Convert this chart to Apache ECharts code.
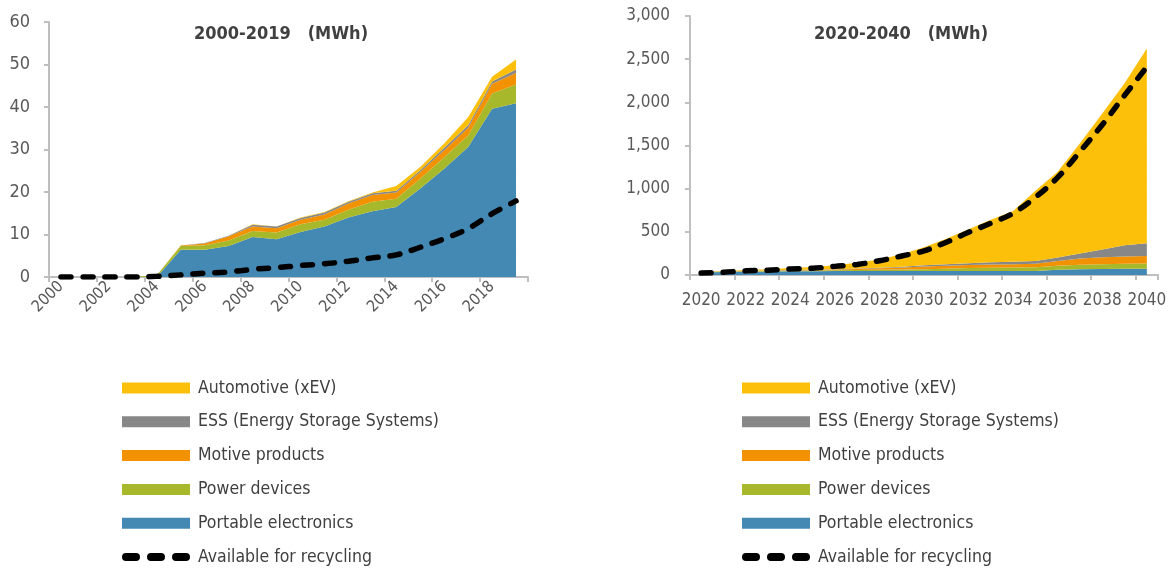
<!DOCTYPE html>
<html>
<head>
<meta charset="utf-8">
<script src="https://cdn.jsdelivr.net/npm/echarts@6/dist/echarts.min.js"></script>
<style>
html,body{margin:0;padding:0;background:#fff;}
#chart{width:1176px;height:569px;}
</style>
</head>
<body>
<div id="chart"></div>
<script>
// ---------- DATA ----------
const yearsLeft = ['2000','2001','2002','2003','2004','2005','2006','2007','2008','2009','2010','2011','2012','2013','2014','2015','2016','2017','2018','2019'];
const portableLeft = [0,0,0,0,0,6.4,6.4,7.3,9.4,8.9,10.6,11.9,14.0,15.5,16.5,20.8,25.5,30.6,39.6,40.9];
const powerLeft    = [0,0,0,0,0.4,0.9,1.05,1.3,1.4,1.6,1.8,1.6,1.8,2.2,1.9,2.3,2.7,2.7,3.6,4.4];
const motiveLeft   = [0,0,0,0,0,0.1,0.45,1.0,1.1,1.0,1.1,1.2,1.5,1.6,1.5,1.6,1.6,1.8,2.3,2.7];
const essLeft      = [0,0,0,0,0,0,0.1,0.1,0.4,0.4,0.4,0.5,0.4,0.4,0.4,0.4,0.6,0.6,0.5,0.8];
const autoLeft     = [0,0,0,0,0,0,0,0,0.1,0,0.1,0.1,0.1,0.2,1.1,0.8,1.0,1.9,1.1,2.4];
const recycleLeft  = [0,0,0,0,0.15,0.5,0.9,1.2,1.8,2.2,2.7,3.1,3.7,4.5,5.2,7.0,9.0,11.4,14.9,17.9];

const yearsRight = ['2020','2021','2022','2023','2024','2025','2026','2027','2028','2029','2030','2031','2032','2033','2034','2035','2036','2037','2038','2039','2040'];
const portableRight = [30,35,38,40,42,44,45,45,46,46,47,47,47,47,47,47,62,68,70,71,72];
const powerRight    = [3,4,5,6,7,9,11,14,16,19,21,26,34,38,40,42,46,50,54,58,62];
const motiveRight   = [1,2,3,3,4,5,7,11,16,22,30,34,36,38,38,40,55,72,82,85,85];
const essRight      = [1,1,3,4,5,5,5,6,7,9,15,18,20,24,28,32,40,60,90,130,148];
const autoRight     = [5,3,9,15,22,29,44,66,95,144,207,295,393,493,587,814,993,1275,1576,1876,2258];
const recycleRight  = [22,32,48,55,70,78,100,122,165,220,280,380,495,600,715,900,1130,1430,1740,2080,2410];

const leftTitle = '2000-2019   (MWh)';
const rightTitle = '2020-2040   (MWh)';
const names = ['Portable electronics','Power devices','Motive products','ESS (Energy Storage Systems)','Automotive (xEV)','Available for recycling'];
const colors = ['#4389B4','#A7B82A','#F39200','#878787','#FCC00B','#000000'];

// ---------- CHART ----------
const FONT = "'DejaVu Sans Condensed','DejaVu Sans',sans-serif";
const chart = echarts.init(document.getElementById('chart'));

function areaSeries(idx, data, axisIdx, stack) {
  return {
    name: names[idx], type: 'line', stack: stack,
    xAxisIndex: axisIdx, yAxisIndex: axisIdx,
    data: data, symbol: 'none', silent: true,
    lineStyle: { width: 0, color: colors[idx] },
    itemStyle: { color: colors[idx] },
    areaStyle: { color: colors[idx], opacity: 1 },
    z: 2
  };
}
function lineSeries(data, axisIdx) {
  return {
    name: names[5], type: 'line', xAxisIndex: axisIdx, yAxisIndex: axisIdx,
    data: data, symbol: 'none', smooth: 0.35, silent: true,
    lineStyle: { color: '#000', width: 5.5, type: [10, 12], cap: 'round' },
    itemStyle: { color: '#000' },
    z: 5
  };
}
const dashIcon = 'path://M4,0h10a4,4 0 0 1 0,8h-10a4,4 0 0 1 0,-8z M29,0h10a4,4 0 0 1 0,8h-10a4,4 0 0 1 0,-8z M54,0h10a4,4 0 0 1 0,8h-10a4,4 0 0 1 0,-8z';
function legendData() {
  return [
    { name: names[4], icon: 'rect' },
    { name: names[3], icon: 'rect' },
    { name: names[2], icon: 'rect' },
    { name: names[1], icon: 'rect' },
    { name: names[0], icon: 'rect' },
    { name: names[5], icon: dashIcon, itemStyle: { color: '#000', borderWidth: 0 } }
  ];
}
const legendCommon = {
  orient: 'vertical', top: 377, height: 300, padding: 0,
  itemWidth: 68, itemHeight: 11, itemGap: 11.8,
  selectedMode: false,
  textStyle: { fontFamily: FONT, fontSize: 17.5, color: '#404040', lineHeight: 22, padding: [0,0,0,3] }
};
const axisLineStyle = { lineStyle: { color: '#BFBFBF', width: 2 } };
const tickStyle = { show: true, length: 5, lineStyle: { color: '#BFBFBF', width: 2 } };

const option = {
  animation: false,
  backgroundColor: '#fff',
  title: [
    { text: leftTitle, left: 276, top: 20, textAlign: 'center',
      textStyle: { fontFamily: FONT, fontSize: 18, fontWeight: 'bold', color: '#404040' } },
    { text: rightTitle, left: 896, top: 20, textAlign: 'center',
      textStyle: { fontFamily: FONT, fontSize: 18, fontWeight: 'bold', color: '#404040' } }
  ],
  legend: [
    Object.assign({ left: 122, data: legendData() }, legendCommon),
    Object.assign({ left: 742, data: legendData() }, legendCommon)
  ],
  grid: [
    { left: 49, top: 22, width: 479, height: 255 },
    { left: 690, top: 16, width: 468, height: 259 }
  ],
  xAxis: [
    { type: 'category', gridIndex: 0, data: yearsLeft, boundaryGap: true,
      axisLine: axisLineStyle, axisTick: tickStyle,
      axisLabel: { interval: 1, rotate: 45, margin: 7, fontFamily: FONT, fontSize: 16, color: '#595959' } },
    { type: 'category', gridIndex: 1, data: yearsRight, boundaryGap: true,
      axisLine: axisLineStyle, axisTick: tickStyle,
      axisLabel: { interval: 1, margin: 17, fontFamily: FONT, fontSize: 17, color: '#595959',
        showMinLabel: true, showMaxLabel: true, hideOverlap: false } }
  ],
  yAxis: [
    { type: 'value', gridIndex: 0, min: 0, max: 60, interval: 10,
      axisLine: Object.assign({ show: true }, axisLineStyle), axisTick: tickStyle, splitLine: { show: false },
      axisLabel: { margin: 19, fontFamily: FONT, fontSize: 18, color: '#595959' } },
    { type: 'value', gridIndex: 1, min: 0, max: 3000, interval: 500,
      axisLine: Object.assign({ show: true }, axisLineStyle), axisTick: tickStyle, splitLine: { show: false },
      axisLabel: { margin: 20, fontFamily: FONT, fontSize: 17, color: '#595959',
        formatter: v => v.toLocaleString('en-US') } }
  ],
  series: [
    areaSeries(0, portableLeft, 0, 'L'),
    areaSeries(1, powerLeft, 0, 'L'),
    areaSeries(2, motiveLeft, 0, 'L'),
    areaSeries(3, essLeft, 0, 'L'),
    areaSeries(4, autoLeft, 0, 'L'),
    lineSeries(recycleLeft, 0),
    areaSeries(0, portableRight, 1, 'R'),
    areaSeries(1, powerRight, 1, 'R'),
    areaSeries(2, motiveRight, 1, 'R'),
    areaSeries(3, essRight, 1, 'R'),
    areaSeries(4, autoRight, 1, 'R'),
    lineSeries(recycleRight, 1)
  ]
};
chart.setOption(option);
</script>
</body>
</html>
